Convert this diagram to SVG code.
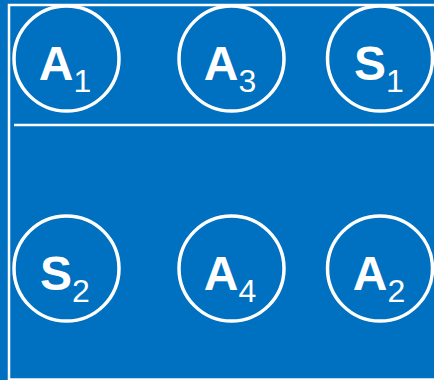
<svg xmlns="http://www.w3.org/2000/svg" width="434" height="380" viewBox="0 0 434 380">
<style>
.c{fill:none;stroke:#fff;stroke-width:3.5}
.t{font-family:"Liberation Sans",Arial,sans-serif;font-weight:bold;font-size:48px;fill:#fff;text-anchor:middle}
.s{font-weight:normal;font-size:32px}
</style>
<rect width="434" height="380" fill="#0070C0"/>
<g id="frame">
<rect x="9" y="5" width="440" height="374.5" fill="none" stroke="#fff" stroke-width="2.5"/>
<line x1="14" y1="125" x2="434" y2="125" stroke="#fff" stroke-width="2.5"/>
</g>
<g id="connectors"></g>
<g id="A1"><circle class="c" cx="66.5" cy="58.5" r="52.5"/><text class="t" x="65" y="79.5">A<tspan class="s" dy="12">1</tspan></text></g>
<g id="A3"><circle class="c" cx="231.5" cy="58.5" r="52.5"/><text class="t" x="230" y="79.5">A<tspan class="s" dy="12">3</tspan></text></g>
<g id="S1"><circle class="c" cx="380" cy="58.5" r="52.5"/><text class="t" x="379" y="79.5">S<tspan class="s" dy="12">1</tspan></text></g>
<g id="S2"><circle class="c" cx="66.5" cy="268.5" r="52.5"/><text class="t" x="65" y="289.5">S<tspan class="s" dy="12">2</tspan></text></g>
<g id="A4"><circle class="c" cx="231.5" cy="268.5" r="52.5"/><text class="t" x="230" y="289.5">A<tspan class="s" dy="12">4</tspan></text></g>
<g id="A2"><circle class="c" cx="380" cy="268.5" r="52.5"/><text class="t" x="379" y="289.5">A<tspan class="s" dy="12">2</tspan></text></g>
</svg>
